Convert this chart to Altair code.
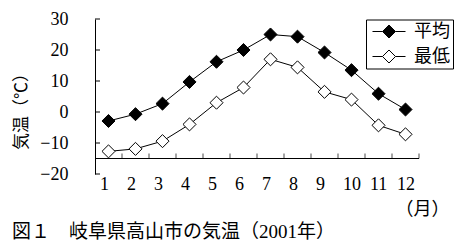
import altair as alt
import pandas as pd

# ---- data ----
months = list(range(1, 13))
avg_temp = [-2.9, -0.7, 2.7, 9.7, 16.2, 20.0, 25.0, 24.3, 19.2, 13.5, 5.9, 0.8]
min_temp = [-12.7, -11.9, -9.4, -4.0, 3.0, 7.9, 17.0, 14.4, 6.5, 4.0, -4.3, -7.2]
series_names = ["平均", "最低"]
y_ticks = [-20, -10, 0, 10, 20, 30]
x_boundaries = [m + 0.5 for m in months]
x_cross = -15
y_title = "気温（℃）"
x_title = "（月）"
caption = "図１　岐阜県高山市の気温（2001年）"

NUM = "'Liberation Serif', 'Noto Sans CJK JP', serif"
JP = "Noto Sans CJK JP"

df = pd.DataFrame({
    "month": months * 2,
    "temp": avg_temp + min_temp,
    "series": [series_names[0]] * 12 + [series_names[1]] * 12,
})

xs = alt.Scale(domain=[0.5, 12.5], nice=False, zero=False)
ys = alt.Scale(domain=[-20, 30], nice=False, zero=False)

x_axis = alt.Axis(
    values=months, format="d", labelAlign="left", labelOffset=-9,
    ticks=False, domain=False, grid=False, labelPadding=1,
    labelFlush=False, labelOverlap=False,
    labelFont=NUM, labelFontSize=18, labelColor="black",
    title=x_title, titleX=327, titleY=35, titleAlign="center",
    titleBaseline="middle", titleFont=JP, titleFontSize=18,
    titleFontWeight="normal", titleColor="black")
y_axis = alt.Axis(
    values=y_ticks, ticks=False, tickSize=0, grid=False,
    domainColor="black", labelPadding=27,
    labelFlush=False, labelOverlap=False,
    labelFont=NUM, labelFontSize=18, labelColor="black",
    title=y_title, titleX=-74, titleY=88, titleAngle=270,
    titleAlign="center", titleBaseline="middle", titleFont=JP,
    titleFontSize=17, titleFontWeight="normal", titleColor="black")

legend_path = "M-1,0L-0.394,0M0.394,0L1,0M-0.394,0L0,-0.394L0.394,0L0,0.394Z"

base = alt.Chart(df)

lines = base.mark_line(color="black", strokeWidth=1).encode(
    x=alt.X("month:Q", scale=xs, axis=x_axis, title=x_title),
    y=alt.Y("temp:Q", scale=ys, axis=y_axis, title=y_title),
    detail="series:N",
)

points = base.mark_point(shape="diamond", filled=True, size=170,
                         stroke="black", strokeWidth=1, opacity=1).encode(
    x=alt.X("month:Q", scale=xs, axis=x_axis, title=x_title),
    y=alt.Y("temp:Q", scale=ys, axis=y_axis, title=y_title),
    fill=alt.Fill("series:N",
                  scale=alt.Scale(domain=series_names, range=["black", "white"]),
                  legend=alt.Legend(
                      orient="none", legendX=271, legendY=0.5, title=None,
                      symbolType=legend_path, symbolSize=1089,
                      symbolStrokeColor="black", symbolStrokeWidth=1,
                      symbolOffset=3, labelOffset=8, clipHeight=18,
                      labelFont=JP, labelFontSize=18, labelColor="black",
                      strokeColor="black", fillColor="white",
                      padding=3, rowPadding=7)),
)

yt = alt.Chart(pd.DataFrame({"temp": y_ticks})).mark_rule(color="black", strokeWidth=1).encode(
    x=alt.value(0), x2=alt.value(5),
    y=alt.Y("temp:Q", scale=ys, axis=y_axis, title=y_title))

xaxis_line = alt.Chart(pd.DataFrame({"month": [0.5], "b": [12.5], "temp": [x_cross]})).mark_rule(
    color="black", strokeWidth=1).encode(
    x=alt.X("month:Q", scale=xs, axis=x_axis, title=x_title), x2="b:Q",
    y=alt.Y("temp:Q", scale=ys, axis=y_axis, title=y_title))

xt = alt.Chart(pd.DataFrame({"month": x_boundaries, "temp": [x_cross] * 12})).mark_tick(
    orient="vertical", size=5, thickness=1, color="black", yOffset=-2.5).encode(
    x=alt.X("month:Q", scale=xs, axis=x_axis, title=x_title),
    y=alt.Y("temp:Q", scale=ys, axis=y_axis, title=y_title))

cap = alt.Chart(pd.DataFrame({"t": [caption]})).mark_text(
    align="left", baseline="middle", font=NUM, fontSize=19, color="black").encode(
    x=alt.value(-83), y=alt.value(213), text="t:N")

chart = alt.layer(lines, points, xaxis_line, xt, yt, cap).properties(
    width=324, height=155,
    padding={"left": 95, "top": 19, "right": 45, "bottom": 75},
    autosize="none",
    background="white",
).configure_view(stroke=None).configure_axis(labelOverlap=False, labelFlush=False)

chart.save("out.html", embed_options={"renderer": "svg", "actions": False})
